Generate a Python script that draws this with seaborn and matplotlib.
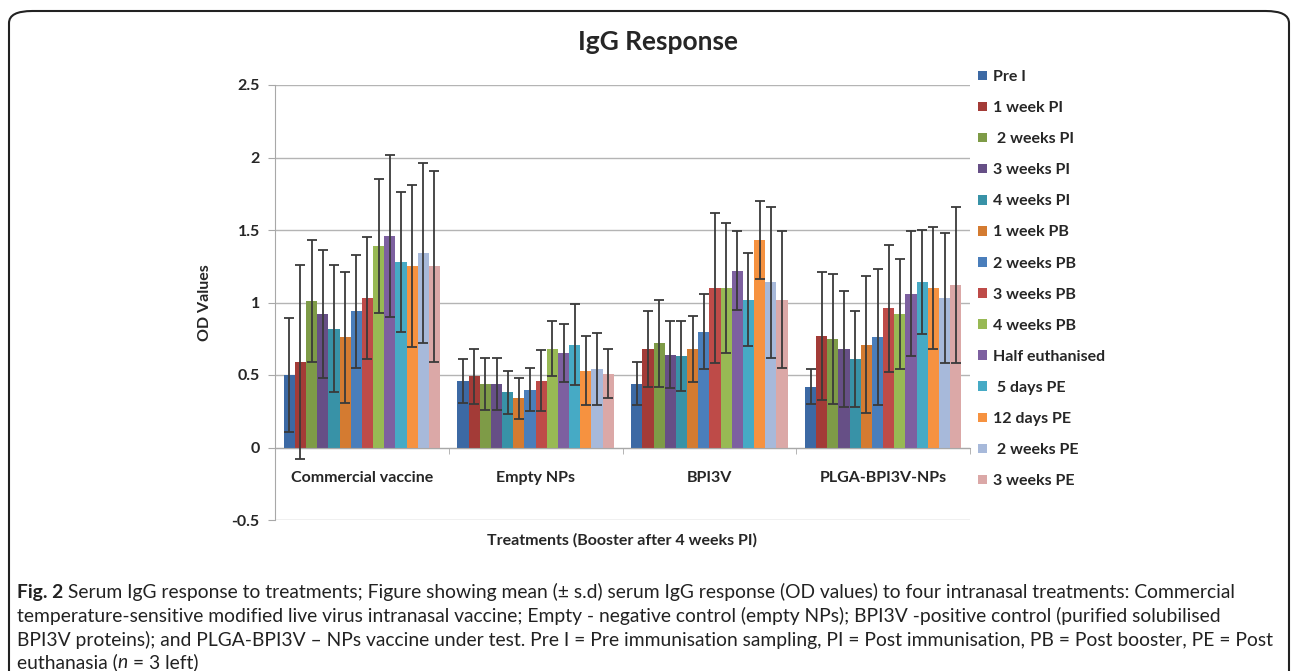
import numpy as np
import pandas as pd
import matplotlib
matplotlib.use("Agg")
import matplotlib.pyplot as plt
import seaborn as sns
from matplotlib.patches import FancyBboxPatch
from matplotlib.ticker import FixedLocator

# === data ===
treatments = ["Commercial vaccine", "Empty NPs", "BPI3V", "PLGA-BPI3V-NPs"]
timepoints = ["Pre I", "1 week PI", " 2 weeks PI", "3 weeks PI", "4 weeks PI",
              "1 week PB", "2 weeks PB", "3 weeks PB", "4 weeks PB",
              "Half euthanised", " 5 days PE", "12 days PE", " 2 weeks PE", "3 weeks PE"]

commercial_mean = [0.50, 0.59, 1.01, 0.92, 0.82, 0.76, 0.94, 1.03, 1.39, 1.46, 1.28, 1.25, 1.34, 1.25]
commercial_sd = [0.39, 0.67, 0.42, 0.44, 0.44, 0.45, 0.39, 0.42, 0.46, 0.56, 0.48, 0.56, 0.62, 0.66]
empty_mean = [0.46, 0.49, 0.44, 0.44, 0.38, 0.34, 0.40, 0.46, 0.68, 0.65, 0.71, 0.53, 0.54, 0.51]
empty_sd = [0.15, 0.19, 0.18, 0.18, 0.15, 0.14, 0.15, 0.21, 0.19, 0.20, 0.28, 0.24, 0.25, 0.17]
bpi3v_mean = [0.44, 0.68, 0.72, 0.64, 0.63, 0.68, 0.80, 1.10, 1.10, 1.22, 1.02, 1.43, 1.14, 1.02]
bpi3v_sd = [0.15, 0.26, 0.30, 0.23, 0.24, 0.23, 0.26, 0.52, 0.45, 0.27, 0.32, 0.27, 0.52, 0.47]
plga_mean = [0.42, 0.77, 0.75, 0.68, 0.61, 0.71, 0.76, 0.96, 0.92, 1.06, 1.14, 1.10, 1.03, 1.12]
plga_sd = [0.12, 0.44, 0.45, 0.40, 0.33, 0.47, 0.47, 0.44, 0.38, 0.43, 0.36, 0.42, 0.45, 0.54]

colors = ["#3C69A4", "#A33B37", "#7E9B47", "#664F86", "#3892A7", "#D47B31", "#4A7EBB",
          "#BE4B48", "#98B954", "#7D60A0", "#46AAC5", "#F69240", "#A7B9DA", "#DBA8A7"]

caption_lines = [
    [("Fig. 2", {"fontweight": "bold"}),
     (" Serum IgG response to treatments; Figure showing mean (\u00b1 s.d) serum IgG response (OD values) to four intranasal treatments: Commercial", {})],
    [("temperature-sensitive modified live virus intranasal vaccine; Empty - negative control (empty NPs); BPI3V -positive control (purified solubilised", {})],
    [("BPI3V proteins); and PLGA-BPI3V \u2013 NPs vaccine under test. Pre I = Pre immunisation sampling, PI = Post immunisation, PB = Post booster, PE = Post", {})],
    [("euthanasia (", {}), ("n", {"fontstyle": "italic"}), (" = 3 left)", {})],
]

means = [commercial_mean, empty_mean, bpi3v_mean, plga_mean]
sds = [commercial_sd, empty_sd, bpi3v_sd, plga_sd]

rows = []
for t, m, s in zip(treatments, means, sds):
    for tp, mv, sv in zip(timepoints, m, s):
        rows.append({"Treatment": t, "Time": tp, "OD": mv, "SD": sv})
df = pd.DataFrame(rows)

sns.set_style("white")
plt.rcParams["font.family"] = ["Lato", "DejaVu Sans"]

fig = plt.figure(figsize=(12.93, 6.71), dpi=100)
ax = fig.add_axes([275 / 1293, 1 - 520 / 671, 695 / 1293, 435 / 671])

sns.barplot(data=df, x="Treatment", y="OD", hue="Time", order=treatments,
            hue_order=timepoints, palette=colors, saturation=1, width=0.9,
            errorbar=None, linewidth=0, ax=ax)

# error bars (mean +/- s.d.)
for cont, tp in zip(ax.containers, timepoints):
    sub = df[df["Time"] == tp].set_index("Treatment").loc[treatments]
    xs = [p.get_x() + p.get_width() / 2 for p in cont.patches]
    ax.errorbar(xs, sub["OD"].values, yerr=sub["SD"].values, fmt="none",
                ecolor="#3a3a3a", elinewidth=1.3, capsize=3.5, capthick=1.3, zorder=3)

ax.set_ylim(-0.5, 2.5)
ax.set_xlim(-0.5, 3.5)
ax.set_yticks(np.arange(-0.5, 2.51, 0.5))
ax.set_yticklabels([f"{v:g}" for v in np.arange(-0.5, 2.51, 0.5)],
                   fontsize=11.5, fontweight="bold")
ax.yaxis.grid(True, color="#b4b4b4", linewidth=1)
ax.set_axisbelow(True)

for side in ["top", "right"]:
    ax.spines[side].set_visible(False)
ax.spines["left"].set_color("#a8a8a8")
ax.spines["bottom"].set_color("#a8a8a8")
ax.spines["bottom"].set_position(("data", 0))
ax.tick_params(axis="y", left=True, length=5, color="#a8a8a8", pad=6)
ax.tick_params(axis="x", which="major", bottom=False, length=0, pad=17,
               labelsize=11.5)
ax.xaxis.set_minor_locator(FixedLocator([0.5, 1.5, 2.5, 3.5]))
ax.tick_params(axis="x", which="minor", bottom=True, length=4, color="#a8a8a8")
for lbl in ax.get_xticklabels():
    lbl.set_fontweight("bold")

ax.set_xlabel("")
ax.set_ylabel("OD Values", fontsize=11.5, fontweight="bold", labelpad=14)
fig.text(622 / 1293, 1 - 540 / 671, "Treatments (Booster after 4 weeks PI)",
         ha="center", va="center", fontsize=11.5, fontweight="bold")
fig.text(658 / 1293, 1 - 42 / 671, "IgG Response", ha="center", va="center",
         fontsize=19, fontweight="bold")

handles, labels = ax.get_legend_handles_labels()
ax.legend(handles, labels, loc="upper left", bbox_to_anchor=(970 / 1293, 1 - 62 / 671),
          bbox_transform=fig.transFigure, frameon=False,
          prop={"weight": "bold", "size": 11.5}, handlelength=0.55, handleheight=0.55,
          handletextpad=0.4, labelspacing=1.07, borderpad=0)

# outer rounded frame
frame = FancyBboxPatch((9 / 1293, -0.05), 1280 / 1293, 1 - 11 / 671 + 0.05,
                       boxstyle="round,pad=0,rounding_size=0.018",
                       transform=fig.transFigure, fill=False, edgecolor="#222222",
                       linewidth=1.5, clip_on=False)
fig.patches.append(frame)

# caption
fig.canvas.draw()
renderer = fig.canvas.get_renderer()


def put_pieces(x_px, y_px, pieces, size):
    x = x_px / 1293
    made = []
    for txt, kw in pieces:
        t = fig.text(x, 1 - y_px / 671, txt, ha="left", va="baseline",
                     fontsize=size, color="#222222", **kw)
        made.append(t)
        x = t.get_window_extent(renderer).x1 / 1293
    return made, x * 1293 - x_px


# fit the widest caption line to the width it has in the figure
widths = []
for line in caption_lines:
    trial, w = put_pieces(17, 598, line, 12)
    widths.append(w)
    for t in trial:
        t.remove()
cap_size = 12 * 1250 / max(widths)

for line, y in zip(caption_lines, [598, 622, 646, 668]):
    put_pieces(17, y, line, cap_size)

fig.savefig("out.png", dpi=100)
